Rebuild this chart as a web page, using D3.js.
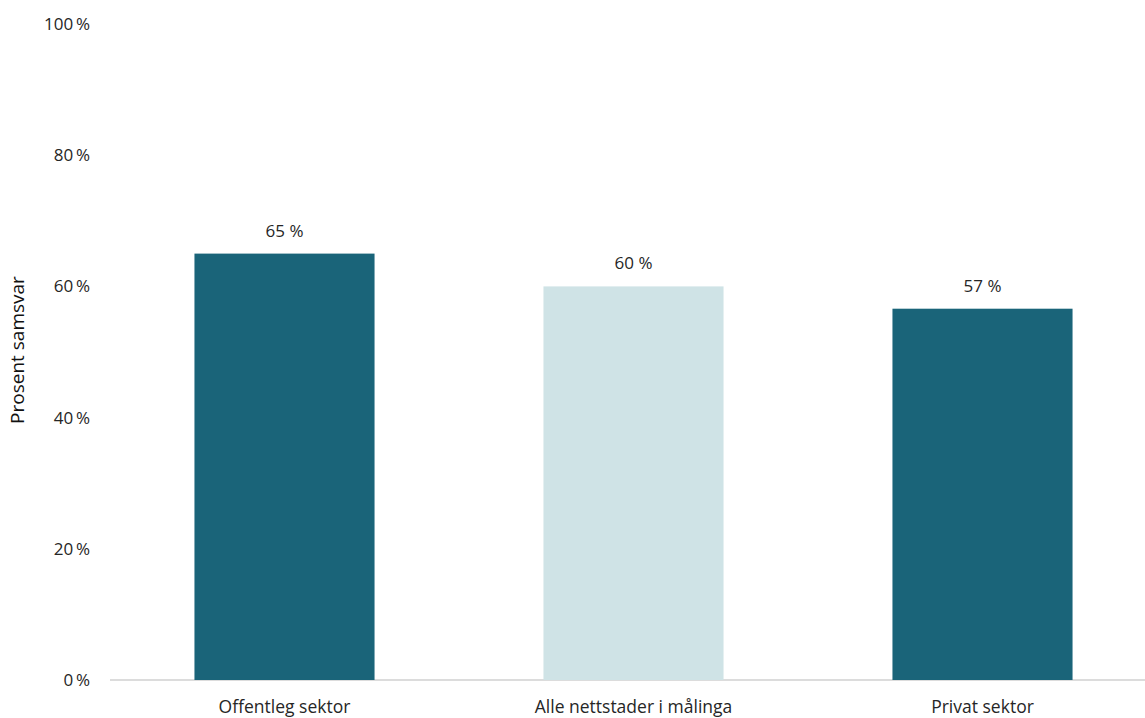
<!DOCTYPE html>
<html><head><meta charset="utf-8">
<script src="https://cdn.jsdelivr.net/npm/d3@7"></script>
<style>body{margin:0;background:#fff}text{font-family:"Open Sans",sans-serif}</style>
</head><body>
<svg id="c" width="1145" height="718"></svg>
<script>
const categories = ["Offentleg sektor", "Alle nettstader i målinga", "Privat sektor"];
const values = [65, 60, 56.6];
const valueLabels = ["65 %", "60 %", "57 %"];
const barColors = ["#1a6479", "#cfe3e6", "#1a6479"];
const yTicks = [0, 20, 40, 60, 80, 100];
const yTitle = "Prosent samsvar";

const svg = d3.select("#c");
const x = d3.scaleBand().domain(categories).range([110, 1157]).paddingInner(0.484).paddingOuter(0.242);
const y = d3.scaleLinear().domain([0, 100]).range([680, 24]);

svg.append("line").attr("x1", 110).attr("x2", 1145).attr("y1", y(0)).attr("y2", y(0))
  .attr("stroke", "#d0d0d0").attr("stroke-width", 1.5);

svg.selectAll("rect.bar").data(categories).join("rect").attr("class","bar")
  .attr("x", d => x(d)).attr("width", x.bandwidth())
  .attr("y", (d,i) => y(values[i])).attr("height", (d,i) => y(0) - y(values[i]))
  .attr("fill", (d,i) => barColors[i]);

svg.selectAll("text.vl").data(categories).join("text").attr("class","vl")
  .attr("x", d => x(d) + x.bandwidth()/2).attr("y", (d,i) => y(values[i]) - 17)
  .attr("text-anchor","middle").attr("font-size", 17).attr("fill","#262626")
  .text((d,i) => valueLabels[i]);

svg.selectAll("text.yt").data(yTicks).join("text").attr("class","yt")
  .attr("x", 90).attr("y", d => y(d)).attr("dy", "0.35em")
  .attr("text-anchor","end").attr("font-size", 17).attr("fill","#262626")
  .text(d => d + "\u2009%");

svg.selectAll("text.xl").data(categories).join("text").attr("class","xl")
  .attr("x", d => x(d) + x.bandwidth()/2).attr("y", 713)
  .attr("text-anchor","middle").attr("font-size", 17.5).attr("fill","#262626")
  .text(d => d);

svg.append("text").attr("transform","translate(24,350) rotate(-90)")
  .attr("text-anchor","middle").attr("font-size", 19).attr("fill","#111")
  .text(yTitle);
</script>
</body></html>
